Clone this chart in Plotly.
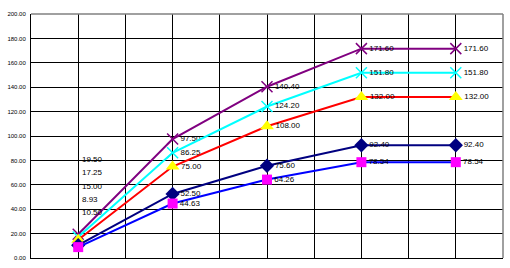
import plotly.graph_objects as go

x_pos = [1, 3, 5, 7, 9]
purple_vals = [19.50, 97.50, 140.40, 171.60, 171.60]
cyan_vals = [17.25, 86.25, 124.20, 151.80, 151.80]
red_vals = [15.00, 75.00, 108.00, 132.00, 132.00]
navy_vals = [10.50, 52.50, 75.60, 92.40, 92.40]
blue_vals = [8.93, 44.63, 64.26, 78.54, 78.54]
y_ticks = [0, 20, 40, 60, 80, 100, 120, 140, 160, 180, 200]
y_tick_labels = ["%.2f" % v for v in y_ticks]

series = [
    ("purple", purple_vals, "#800080", dict(symbol="x-thin", size=11, color="#800080", line=dict(color="#800080", width=1.5))),
    ("cyan", cyan_vals, "#00FFFF", dict(symbol="x-thin", size=11, color="#00FFFF", line=dict(color="#00FFFF", width=1.5))),
    ("red", red_vals, "#FF0000", dict(symbol="triangle-up", size=12, color="#FFFF00", line=dict(width=0))),
    ("navy", navy_vals, "#000080", dict(symbol="diamond", size=11, color="#000080", line=dict(width=0))),
    ("blue", blue_vals, "#0000FF", dict(symbol="square", size=10, color="#FF00FF", line=dict(width=0))),
]

label_font = dict(family="Liberation Sans", size=8, color="black")

fig = go.Figure()
for name, vals, col, mk in series:
    texts = [""] + ["%.2f" % v for v in vals[1:]]
    fig.add_trace(go.Scatter(
        x=x_pos, y=vals, mode="lines+markers+text", name=name,
        line=dict(color=col, width=2), marker=mk,
        text=texts, textposition="middle right", textfont=label_font,
        cliponaxis=False, showlegend=False,
    ))

# stacked labels for the first point (order: purple, cyan, red, blue, navy)
first_order = [purple_vals, cyan_vals, red_vals, blue_vals, navy_vals]
annotations = []
for i, vals in enumerate(first_order):
    annotations.append(dict(
        x=x_pos[0], y=80.5, xref="x", yref="y", text="%.2f" % vals[0],
        showarrow=False, xanchor="left", yanchor="middle",
        xshift=2, yshift=-i * 13.2, font=label_font,
    ))

shapes = [
    dict(type="line", xref="paper", yref="paper", x0=0, x1=1, y0=1, y1=1,
         line=dict(color="#808080", width=1.5)),
    dict(type="line", xref="paper", yref="paper", x0=1, x1=1, y0=0, y1=1,
         line=dict(color="#808080", width=1.5)),
]

fig.update_layout(
    width=510, height=268,
    margin=dict(l=29, r=7, t=14, b=10),
    paper_bgcolor="white", plot_bgcolor="white",
    annotations=annotations, shapes=shapes,
    xaxis=dict(range=[0, 10], dtick=1, showgrid=True, gridcolor="black", gridwidth=1,
               showticklabels=False, ticks="", zeroline=False,
               showline=True, linecolor="black", linewidth=1),
    yaxis=dict(range=[0, 200], tickvals=y_ticks, ticktext=y_tick_labels,
               showgrid=True, gridcolor="black", gridwidth=1, zeroline=False,
               showline=True, linecolor="black", linewidth=1, ticks="",
               tickfont=dict(family="Liberation Sans", size=6, color="black"),
               ticklabelstandoff=3),
)

fig.write_html("out.html")
